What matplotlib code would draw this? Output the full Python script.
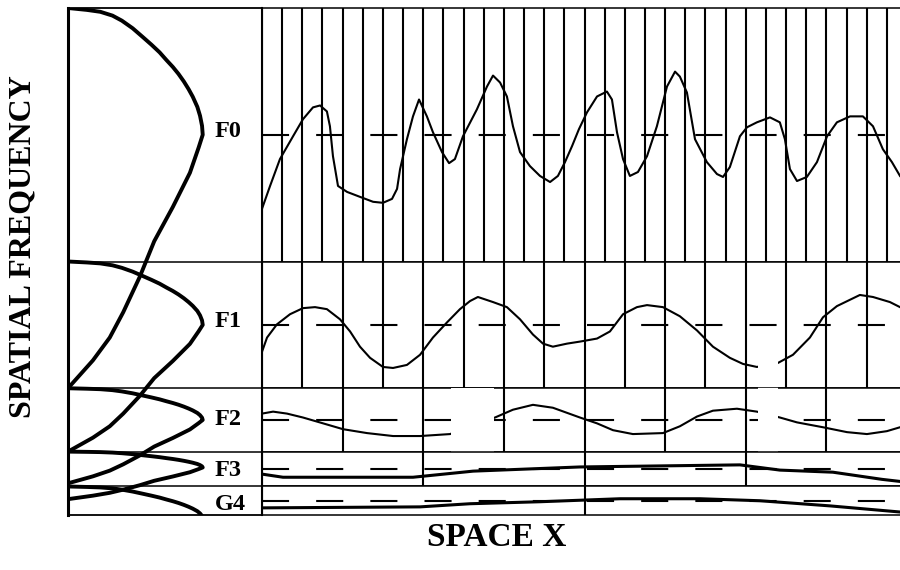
import matplotlib.pyplot as plt
import numpy as np

plt.rcParams['font.family'] = ['Liberation Serif', 'DejaVu Serif']

# octave bands on a linear frequency axis, top band first
names = ['F0', 'F1', 'F2', 'F3', 'G4']
band_hi = [16.0, 8.0, 4.0, 2.0, 0.9]
band_lo = [8.0, 4.0, 2.0, 0.9, 0.0]
sample_step = [1, 2, 4, 8, 16]

# filter responses: upper end, peak and lower tail end of each curve
filter_top = [16.0, 8.0, 4.0, 2.0, 0.9]
filter_peak = [12.0, 6.0, 3.0, 1.5, -0.1]
filter_tail = [4.0, 2.0, 1.0, 0.5, None]   # G4 is low-pass
label_f = [12.1, 6.1, 3.0, 1.4, 0.32]

# shape of one filter, normalised (upper branch: top -> peak, lower: peak -> tail)
upper_u = [1.0, 0.985, 0.97, 0.94, 0.90, 0.84, 0.77, 0.71, 0.65, 0.59, 0.535, 0.48,
           0.42, 0.36, 0.30, 0.22, 0.15, 0.07, 0.0]
upper_r = [0.0, 0.14, 0.24, 0.33, 0.40, 0.48, 0.556, 0.62, 0.68, 0.73, 0.778, 0.82,
           0.86, 0.895, 0.926, 0.96, 0.98, 0.995, 1.0]
lower_v = [0.0, 0.05, 0.15, 0.285, 0.42, 0.56, 0.70, 0.80, 0.89, 1.0]
lower_r = [1.0, 0.97, 0.905, 0.778, 0.64, 0.533, 0.41, 0.31, 0.185, 0.0]

# band signals along x (in F0 sample units), amplitude relative to band half-height
f0_x = [0.0, 0.40, 0.89, 1.54, 2.03, 2.53, 2.88, 3.22, 3.37, 3.52, 3.77, 4.22, 4.86,
        5.51, 6.00, 6.45, 6.70, 6.85, 7.19, 7.49, 7.79, 8.18, 8.48, 8.93, 9.28, 9.57,
        9.97, 10.66, 11.16, 11.46, 11.81, 12.15, 12.45, 12.80, 13.29, 13.79, 14.29,
        14.68, 15.03, 15.38, 15.72, 16.12, 16.62, 17.11, 17.36, 17.61, 17.91, 18.25,
        18.65, 19.10, 19.59, 20.09, 20.49, 20.73, 21.08, 21.48, 22.07, 22.57, 22.87,
        23.21, 23.71, 24.06, 24.55, 25.20, 25.69, 25.94, 26.19, 26.54, 27.03, 27.53,
        28.03, 28.52, 29.17, 29.81, 30.31, 30.80, 31.25, 31.65]
f0_y = [-0.584, -0.404, -0.192, -0.012, 0.122, 0.216, 0.231, 0.184, 0.067, -0.169,
        -0.404, -0.451, -0.490, -0.529, -0.537, -0.506, -0.427, -0.271, -0.035, 0.145,
        0.278, 0.145, 0.020, -0.137, -0.224, -0.192, -0.012, 0.200, 0.380, 0.467, 0.412,
        0.302, 0.067, -0.137, -0.247, -0.325, -0.373, -0.325, -0.216, -0.090, 0.043,
        0.176, 0.302, 0.341, 0.278, 0.020, -0.192, -0.325, -0.294, -0.169, 0.067, 0.380,
        0.498, 0.459, 0.333, -0.035, -0.216, -0.310, -0.333, -0.255, -0.012, 0.059,
        0.098, 0.137, 0.098, -0.035, -0.271, -0.365, -0.333, -0.216, -0.012, 0.098,
        0.145, 0.145, 0.067, -0.114, -0.216, -0.325]

f1_x = [0.0, 0.25, 0.74, 1.39, 2.03, 2.63, 3.22, 3.87, 4.37, 4.86, 5.36, 6.00, 6.50,
        7.19, 7.84, 8.48, 9.18, 9.82, 10.32, 10.71, 11.46, 12.15, 12.80, 13.44, 13.94,
        14.43, 15.13, 15.77, 16.62, 17.26, 17.91, 18.60, 19.10, 19.89, 20.73, 21.58,
        22.37, 23.21, 23.86, 24.55, 25.60, 26.34, 27.18, 27.83, 28.52, 29.66, 30.31,
        31.15, 31.65]
f1_y = [-0.424, -0.200, 0.008, 0.168, 0.264, 0.280, 0.248, 0.088, -0.104, -0.344,
        -0.520, -0.664, -0.680, -0.632, -0.472, -0.200, 0.040, 0.248, 0.376, 0.440,
        0.360, 0.280, 0.088, -0.152, -0.296, -0.344, -0.296, -0.264, -0.216, -0.104,
        0.168, 0.280, 0.312, 0.280, 0.136, -0.088, -0.344, -0.520, -0.616, -0.664,
        -0.600, -0.472, -0.200, 0.120, 0.296, 0.472, 0.440, 0.360, 0.280]

f2_x = [0.0, 0.55, 1.24, 2.03, 3.03, 4.02, 5.21, 6.50, 7.84, 9.33, 11.56, 12.45, 13.44,
        14.43, 15.77, 16.62, 17.41, 18.40, 19.89, 20.73, 21.58, 22.37, 23.56, 24.55,
        25.69, 26.54, 27.83, 29.02, 30.01, 31.00, 31.65]
f2_y = [0.200, 0.262, 0.200, 0.077, -0.108, -0.292, -0.415, -0.508, -0.508, -0.446,
        0.077, 0.323, 0.477, 0.385, 0.077, -0.108, -0.323, -0.446, -0.415, -0.200,
        0.108, 0.292, 0.354, 0.262, 0.077, -0.077, -0.231, -0.385, -0.446, -0.354, -0.231]

f3_x = [0.0, 1.04, 7.49, 10.47, 15.77, 19.74, 23.71, 25.69, 28.32, 30.75, 31.65]
f3_y = [-0.29, -0.47, -0.47, -0.12, 0.12, 0.18, 0.24, -0.06, -0.18, -0.59, -0.71]

g4_x = [0.0, 7.84, 10.32, 13.79, 17.76, 21.73, 24.70, 28.17, 31.65]
g4_y = [-0.50, -0.43, -0.21, -0.07, 0.14, 0.14, 0.0, -0.36, -0.79]

signals = [(f0_x, f0_y), (f1_x, f1_y), (f2_x, f2_y), (f3_x, f3_y), (g4_x, g4_y)]
signal_lw = [1.5, 1.5, 1.5, 2.2, 2.2]

# patches where the print dropped out: (band, x0, x1, ymax)
dropouts = [(2, 9.4, 11.5, 1.0), (1, 24.6, 25.6, 0.4), (2, 24.6, 25.6, 1.0)]

W, H = 900, 570
fig = plt.figure(figsize=(W / 100, H / 100), dpi=100)
left, divide = 68 / W, 262 / W
top, bottom = 1 - 8 / H, 1 - 515 / H
f_max = 16.0

# --- filter responses ---
ax = fig.add_axes([left, bottom, divide - left, top - bottom])
ax.set_xlim(0, 1.44)
ax.set_ylim(0, f_max)
ax.set_xticks([])
ax.set_yticks([])
for side in ['top', 'bottom', 'right']:
    ax.spines[side].set_linewidth(1.3)
ax.spines['left'].set_linewidth(2.2)
for edge in band_lo[:-1]:
    ax.axhline(edge, color='k', lw=1.1)

for i, name in enumerate(names):
    t, p, tail = filter_top[i], filter_peak[i], filter_tail[i]
    f = [p + u * (t - p) for u in upper_u]
    r = list(upper_r)
    if tail is not None:
        f += [p - v * (p - tail) for v in lower_v[1:]]
        r += lower_r[1:]
    ax.plot(r, f, color='k', lw=2.8, solid_capstyle='butt')
    ax.text(1.09, label_f[i], name, ha='left', va='center', fontsize=17.5,
            fontweight='bold')

# --- band signals ---
x_max = 31.65
for i, name in enumerate(names):
    y0 = bottom + band_lo[i] / f_max * (top - bottom)
    h = (band_hi[i] - band_lo[i]) / f_max * (top - bottom)
    bx = fig.add_axes([divide, y0, 1 - divide, h])
    bx.set_xlim(0, x_max)
    bx.set_ylim(-1, 1)
    bx.set_xticks([])
    bx.set_yticks([])
    bx.spines['right'].set_visible(False)
    bx.spines['left'].set_linewidth(1.5)
    bx.spines['top'].set_linewidth(1.1)
    bx.spines['bottom'].set_linewidth(1.1)
    bx.vlines(np.arange(0, x_max, sample_step[i]), -1, 1, color='k', lw=1.5)
    bx.axhline(0, color='k', lw=1.5, linestyle=(0, (13, 13)))
    sx, sy = signals[i]
    bx.plot(sx, sy, color='k', lw=signal_lw[i])
    for band, x0, x1, ymax in dropouts:
        if band == i:
            bx.axvspan(x0, x1, ymin=0, ymax=ymax, color='white', lw=0, zorder=5)

fig.text(23 / W, 1 - 247 / H, 'SPATIAL FREQUENCY', rotation=90, ha='center',
         va='center', fontsize=23, fontweight='bold')
fig.text(497 / W, 1 - 538 / H, 'SPACE X', ha='center', va='center', fontsize=24,
         fontweight='bold')

fig.savefig('out.png', dpi=100)
